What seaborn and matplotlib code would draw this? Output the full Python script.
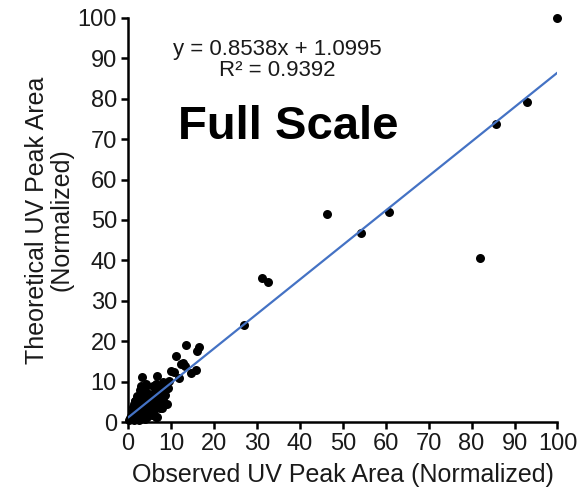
import matplotlib
matplotlib.use("Agg")
import matplotlib.pyplot as plt
import seaborn as sns
import pandas as pd

# ---- data ----
observed = [
    100.0, 93.0, 85.8, 81.9, 60.8, 54.2, 46.3, 31.2, 32.5, 27.0,
    13.4, 16.5, 16.1, 11.2, 12.8, 13.2, 12.4, 10.1, 10.8, 15.8,
    14.7, 3.2, 6.8, 8.2, 8.9, 5.8, 4.3, 9.1, 1.6, 1.6,
    6.6, 5.8, 7.8, 8.2, 11.8, 9.2, 9.6, 7.4, 7.0, 6.2,
    0.2, 0.4, 0.6, 0.8, 1.0, 1.1, 1.3, 1.5, 1.6, 1.8,
    2.0, 2.1, 2.3, 2.4, 2.6, 2.8, 3.0, 3.1, 3.3, 3.5,
    3.6, 3.8, 4.0, 4.1, 4.3, 4.5, 4.7, 4.9, 5.0, 5.2,
    5.4, 5.6, 5.9, 6.1, 6.4, 6.7, 7.0, 7.2, 7.5, 7.8,
    8.1, 8.5, 8.8, 1.2, 1.9, 2.5, 2.9, 3.4, 3.9, 4.4,
    4.8, 5.3, 5.8, 6.3, 6.6, 2.2, 2.7, 3.7, 4.6, 1.4,
    0.9, 1.7, 2.0, 3.0, 4.2, 5.1, 6.0, 7.4, 3.5, 4.5,
    5.5, 6.5, 2.4, 3.2, 4.0, 5.0,
]
theoretical = [
    100.0, 79.2, 73.8, 40.5, 51.9, 46.9, 51.6, 35.6, 34.6, 24.0,
    19.1, 18.6, 17.6, 16.3, 14.7, 13.8, 14.3, 12.6, 12.3, 12.8,
    12.2, 11.1, 11.3, 9.8, 9.7, 8.8, 9.3, 4.4, 5.1, 3.8,
    1.3, 2.2, 3.4, 5.5, 11.0, 8.5, 10.2, 8.0, 9.0, 7.5,
    0.5, 1.0, 0.8, 1.6, 2.5, 1.2, 4.5, 2.0, 3.2, 2.6,
    4.8, 1.5, 3.5, 5.5, 2.2, 4.0, 6.0, 1.0, 3.0, 7.5,
    2.5, 4.5, 8.5, 1.6, 5.5, 3.5, 6.5, 2.0, 7.0, 4.0,
    5.8, 1.8, 6.2, 3.0, 7.8, 1.3, 8.0, 5.0, 6.5, 7.2,
    9.0, 6.8, 8.2, 3.8, 1.0, 0.5, 2.5, 5.0, 0.8, 1.2,
    4.5, 3.0, 2.5, 4.8, 9.5, 6.5, 7.8, 3.2, 2.0, 0.4,
    1.5, 5.2, 3.0, 9.0, 7.0, 5.5, 4.5, 3.5, 5.8, 6.0,
    4.2, 4.8, 4.0, 2.0, 3.0, 2.5,
]
slope = 0.8538
intercept = 1.0995
r_squared = 0.9392
x_ticks = [0, 10, 20, 30, 40, 50, 60, 70, 80, 90, 100]
y_ticks = [0, 10, 20, 30, 40, 50, 60, 70, 80, 90, 100]

df = pd.DataFrame({"Observed": observed, "Theoretical": theoretical})
fit_x = [0.0, max(observed)]
fit_df = pd.DataFrame({"x": fit_x, "y": [slope * v + intercept for v in fit_x]})

sns.set_theme(style="white")
plt.rcParams["font.family"] = ["Liberation Sans", "DejaVu Sans"]

TXT = "#1a1a1a"
fig = plt.figure(figsize=(5.78, 4.98), dpi=100)
ax = fig.add_axes([0.2215, 0.1526, 0.743, 0.8113])

sns.scatterplot(data=df, x="Observed", y="Theoretical", ax=ax, color="black",
                s=42, edgecolor="black", linewidth=0, zorder=3, clip_on=False)
sns.lineplot(data=fit_df, x="x", y="y", ax=ax, color="#4472C4", linewidth=1.6, zorder=4)

ax.set_xlim(0, 100)
ax.set_ylim(0, 100)
ax.set_xticks(x_ticks)
ax.set_yticks(y_ticks)
ax.tick_params(axis="both", which="major", direction="out", length=5, width=1.8,
               labelsize=17, color="black", labelcolor=TXT, pad=3, bottom=True, left=True)
for s in ["top", "right"]:
    ax.spines[s].set_visible(False)
for s in ["left", "bottom"]:
    ax.spines[s].set_color("black")
    ax.spines[s].set_linewidth(1.8)
ax.grid(False)

ax.set_xlabel("Observed UV Peak Area (Normalized)", fontsize=18, color=TXT, labelpad=6)
ax.set_ylabel("Theoretical UV Peak Area\n(Normalized)", fontsize=18, color=TXT, labelpad=3,
              linespacing=1.0)

ax.text(0.347, 0.896, f"y = {slope}x + {intercept}\nR\u00b2 = {r_squared}", transform=ax.transAxes,
        ha="center", va="center", fontsize=16, linespacing=1.05, color=TXT)
ax.text(0.374, 0.730, "Full Scale", transform=ax.transAxes, ha="center", va="center",
        fontsize=34, fontweight="bold", color="black")

fig.savefig("out.png", dpi=100)
